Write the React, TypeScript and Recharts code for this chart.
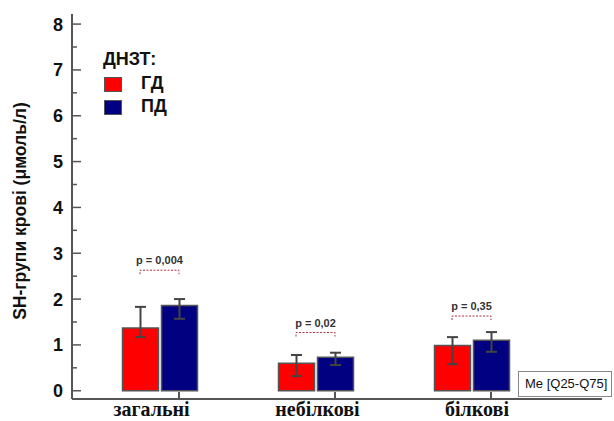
import React from 'react'
import { ComposedChart, Bar, ErrorBar, Scatter, XAxis, YAxis } from 'recharts'

const categories = ['загальні', 'небілкові', 'білкові']
const gdMedian = [1.37, 0.6, 0.99]
const gdQ25 = [1.17, 0.32, 0.58]
const gdQ75 = [1.83, 0.78, 1.17]
const pdMedian = [1.86, 0.73, 1.1]
const pdQ25 = [1.57, 0.56, 0.85]
const pdQ75 = [2.0, 0.83, 1.28]
const pValues = ['p = 0,004', 'p = 0,02', 'p = 0,35']
const pLevel = [2.63, 1.27, 1.63]
const yTicks = [0, 0.5, 1, 1.5, 2, 2.5, 3, 3.5, 4, 4.5, 5, 5.5, 6, 6.5, 7, 7.5, 8]

const data = categories.map((cat, i) => ({
  cat,
  gd: gdMedian[i],
  gdErr: [gdMedian[i] - gdQ25[i], gdQ75[i] - gdMedian[i]],
  pd: pdMedian[i],
  pdErr: [pdMedian[i] - pdQ25[i], pdQ75[i] - pdMedian[i]],
  p: pValues[i],
  pY: pLevel[i]
}))

const sans = '"Liberation Sans", Arial, sans-serif'
const serif = '"Liberation Serif", "Times New Roman", serif'
const axisColor = '#555'
const labelShift = [-8, 2, 5.5]

const YTick = (props: any) => {
  const { x, y, payload } = props
  const v = payload.value
  const major = Number.isInteger(v)
  return (
    <g>
      <line x1={x} x2={x + (major ? 9 : 5)} y1={y} y2={y} stroke={axisColor} strokeWidth={1.5} />
      {major && (
        <text x={x - 9} y={y} dy={6.5} textAnchor="end" fontFamily={sans} fontWeight="bold" fontSize={18} fill="#111">
          {v}
        </text>
      )}
    </g>
  )
}

const XTick = (props: any) => {
  const { x, y, payload, index } = props
  return (
    <g>
      <line x1={x + 19.5} x2={x + 19.5} y1={y - 7} y2={y} stroke={axisColor} strokeWidth={2} />
      <text x={x + labelShift[index]} y={y + 17} textAnchor="middle" fontFamily={serif} fontWeight="bold" fontSize={20} fill="#111">
        {payload.value}
      </text>
    </g>
  )
}

const PBracket = (props: any) => {
  const { cx, cy, payload } = props
  return (
    <g>
      <path
        d={`M${cx - 19.5},${cy + 4} L${cx - 19.5},${cy} L${cx + 19.5},${cy} L${cx + 19.5},${cy + 4}`}
        fill="none"
        stroke="#b0303c"
        strokeWidth={1}
        strokeDasharray="2 1.5"
      />
      <text x={cx} y={cy - 6} textAnchor="middle" fontFamily={sans} fontWeight="bold" fontSize={11} fill="#333">
        {payload.p}
      </text>
    </g>
  )
}

const YLabel = () => (
  <text
    x={20}
    y={211}
    transform="rotate(-90 20 211)"
    textAnchor="middle"
    dominantBaseline="central"
    fontFamily={sans}
    fontWeight="bold"
    fontSize={17.5}
    fill="#111"
  >
    SH-групи крові (μмоль/л)
  </text>
)

export default function App() {
  return (
    <div style={{ position: 'relative', width: 614, height: 421, background: '#fff' }}>
      <style>{'body{margin:0}'}</style>
      <ComposedChart
        width={614}
        height={421}
        data={data}
        margin={{ top: 14, right: 12, left: 0, bottom: 0 }}
        barSize={36}
        barGap={3}
      >
        <XAxis
          dataKey="cat"
          height={22}
          padding={{ left: 9.5, right: 52.5 }}
          axisLine={{ stroke: axisColor, strokeWidth: 2 }}
          tickLine={false}
          tickSize={0}
          tickMargin={0}
          tick={<XTick />}
          interval={0}
        />
        <YAxis
          width={72}
          domain={[-0.18, 8.22]}
          ticks={yTicks}
          interval={0}
          axisLine={{ stroke: axisColor, strokeWidth: 2 }}
          tickLine={false}
          tickSize={0}
          tickMargin={0}
          tick={<YTick />}
          label={<YLabel />}
        />
        <Bar dataKey="gd" fill="#ff0000" stroke="#555" strokeWidth={1.5} isAnimationActive={false}>
          <ErrorBar dataKey="gdErr" width={5.5} strokeWidth={2} stroke="#444" direction="y" />
        </Bar>
        <Bar dataKey="pd" fill="#000080" stroke="#555" strokeWidth={1.5} isAnimationActive={false}>
          <ErrorBar dataKey="pdErr" width={5.5} strokeWidth={2} stroke="#444" direction="y" />
        </Bar>
        <Scatter dataKey="pY" shape={<PBracket />} isAnimationActive={false} />
      </ComposedChart>

      <div style={{ position: 'absolute', left: 103, top: 49, fontFamily: sans, fontWeight: 'bold', fontSize: 18, color: '#111' }}>
        ДНЗТ:
      </div>
      <div style={{ position: 'absolute', left: 104, top: 77, width: 18, height: 15, background: '#ff0000', border: '1px solid #555', boxSizing: 'border-box' }} />
      <div style={{ position: 'absolute', left: 141, top: 73, fontFamily: sans, fontWeight: 'bold', fontSize: 18, color: '#111' }}>ГД</div>
      <div style={{ position: 'absolute', left: 104, top: 100, width: 18, height: 15, background: '#000080', border: '1px solid #555', boxSizing: 'border-box' }} />
      <div style={{ position: 'absolute', left: 141, top: 96, fontFamily: sans, fontWeight: 'bold', fontSize: 18, color: '#111' }}>ПД</div>

      <div
        style={{
          position: 'absolute',
          left: 518,
          top: 371,
          width: 94,
          height: 26,
          boxSizing: 'border-box',
          border: '1px solid #888',
          background: '#fff',
          fontFamily: sans,
          fontSize: 13,
          color: '#111',
          lineHeight: '24px',
          paddingLeft: 6,
          whiteSpace: 'nowrap',
          overflow: 'hidden'
        }}
      >
        Me [Q25-Q75]
      </div>
    </div>
  )
}
